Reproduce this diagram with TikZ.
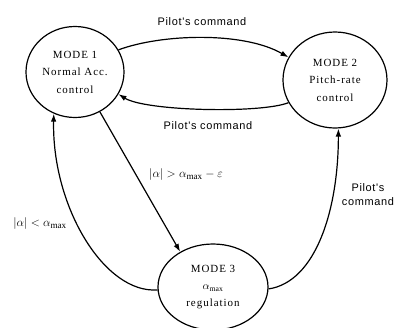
\documentclass[tikz,border=0pt]{standalone}
\usepackage{fontspec}
\setmainfont{Liberation Serif}
\newfontfamily\labfont{Liberation Sans}[LetterSpace=6]
\usetikzlibrary{shapes.geometric,arrows.meta}
\begin{document}
\begin{tikzpicture}[x=1bp,y=-1bp,
  mode/.style={draw, ellipse, line width=1.2bp, inner sep=0pt, align=center,
    font=\fontsize{11}{17.5}\selectfont\addfontfeatures{LetterSpace=9}},
  conn/.style={line width=1.2bp, -{Latex[length=8bp,width=5.5bp]}},
  lab/.style={font=\labfont\fontsize{11}{14}\selectfont, inner sep=0pt, align=center},
  mlab/.style={font=\fontsize{13}{14}\selectfont, inner sep=0pt}]
\useasboundingbox (0,0) rectangle (397,328);
\node[mode, minimum width=98bp, minimum height=91bp] (m1) at (75,72) {MODE 1\\Normal Acc.\\control};
\node[mode, minimum width=104bp, minimum height=96bp] (m2) at (335,80) {MODE 2\\Pitch-rate\\control};
\node[mode, minimum width=110bp, minimum height=86bp] (m3) at (213,287) {MODE 3\\$\alpha_{\max}$\\regulation};
\node[lab] (t1) at (202,22) {Pilot's command};
\node[lab] (t2) at (208,126) {Pilot's command};
\node[mlab] (t3) at (186,175) {$|\alpha| > \alpha_{\max} - \varepsilon$};
\node[mlab] (t4) at (40,224) {$|\alpha| < \alpha_{\max}$};
\node[lab] (t5) at (368,195) {Pilot's\\command};
\draw[conn] (m1.27) .. controls +(43,-16) and +(-45,-26) .. (m2.154);
\draw[conn] (m2.206) .. controls +(-28,11) and +(27,17) .. (m1.-27.5);
\draw[conn] (m1.-58) -- (m3.133);
\draw[conn] (m3.183) .. controls +(-53,4) and +(-2,93) .. (m1.-117);
\draw[conn] (m3.-2) .. controls +(47,-7) and +(0,82) .. (m2.-86);
\end{tikzpicture}
\end{document}
